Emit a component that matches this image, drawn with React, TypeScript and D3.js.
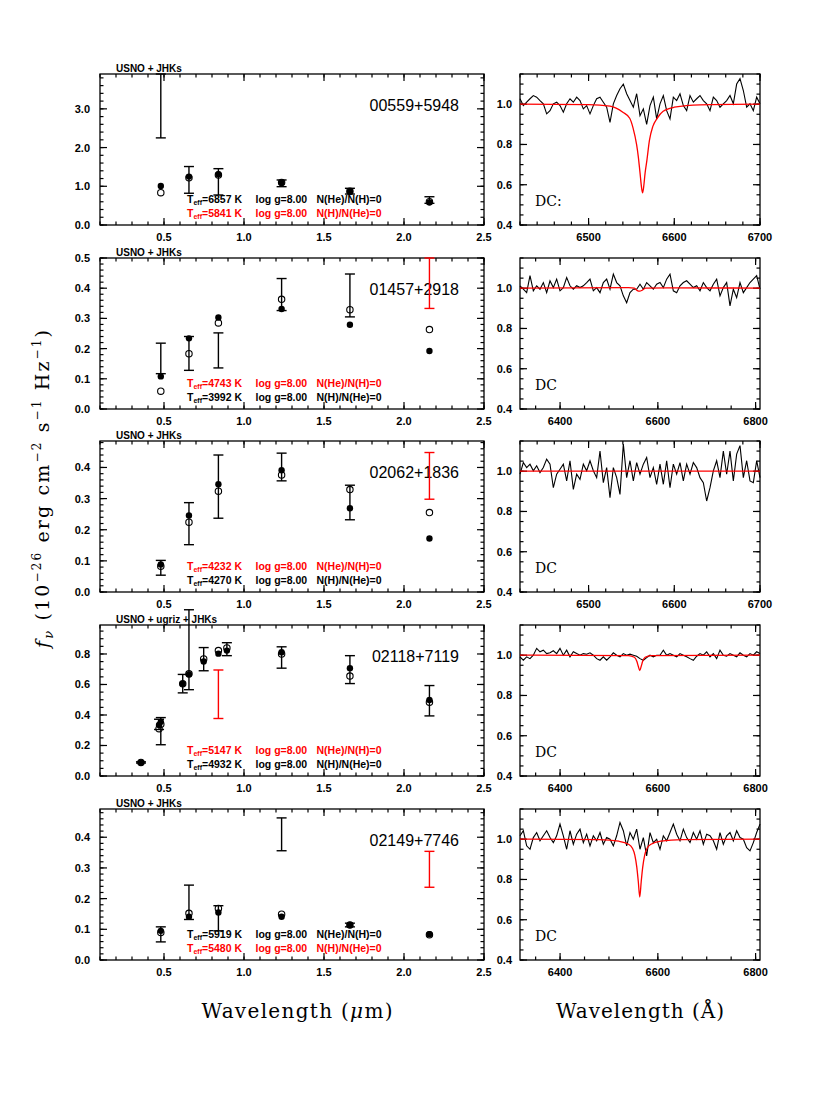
import React from 'react';
import * as d3 from 'd3';

// ---- layout ----
const W = 830;
const H = 1106;
const panelTops = [74, 258, 441, 625, 809];
const panelH = 151;
const sedLeft = 100, sedRight = 484;
const specLeft = 520, specRight = 760;

// ---- panel texts ----
const names = ['00559+5948', '01457+2918', '02062+1836', '02118+7119', '02149+7746'];
const photLabels = ['USNO + JHKs', 'USNO + JHKs', 'USNO + JHKs', 'USNO + ugriz + JHKs', 'USNO + JHKs'];
const specTypes = ['DC:', 'DC', 'DC', 'DC', 'DC'];
const line1Teff = [6857, 4743, 4232, 5147, 5919];
const line2Teff = [5841, 3992, 4270, 4932, 5480];
const line1Color = ['#000', 'red', 'red', 'red', '#000'];
const line2Color = ['red', '#000', '#000', '#000', 'red'];

// ---- SED axes ----
const sedYMax = [3.9, 0.5, 0.485, 0.99, 0.492];
const sedYMajor = [1.0, 0.1, 0.1, 0.2, 0.1];
const sedYMinor = [0.2, 0.02, 0.02, 0.05, 0.02];

// ---- SED data (microns, 1e-26 erg/cm2/s/Hz) ----
const p1Wave = [0.48, 0.656, 0.84, 1.235, 1.662, 2.159];
const p1Lo = [2.25, 0.82, 0.775, 0.99, 0.8, 0.56];
const p1Hi = [3.9, 1.51, 1.455, 1.163, 0.948, 0.73];
const p1Filled = [1.01, 1.25, 1.31, 1.09, 0.86, 0.585];
const p1Open = [0.835, 1.22, 1.29, 1.1, 0.87, 0.6];
const p1Red = [0, 0, 0, 0, 0, 0];

const p2Wave = [0.48, 0.656, 0.84, 1.235, 1.662, 2.159];
const p2Lo = [0.117, 0.128, 0.136, 0.326, 0.305, 0.333];
const p2Hi = [0.218, 0.24, 0.252, 0.432, 0.447, 0.5];
const p2Filled = [0.108, 0.234, 0.303, 0.331, 0.279, 0.192];
const p2Open = [0.059, 0.183, 0.285, 0.363, 0.329, 0.263];
const p2Red = [0, 0, 0, 0, 0, 1];

const p3Wave = [0.48, 0.656, 0.84, 1.235, 1.662, 2.159];
const p3Lo = [0.054, 0.152, 0.237, 0.357, 0.232, 0.298];
const p3Hi = [0.1015, 0.287, 0.44, 0.446, 0.343, 0.448];
const p3Filled = [0.0886, 0.246, 0.346, 0.391, 0.269, 0.172];
const p3Open = [0.083, 0.224, 0.324, 0.376, 0.329, 0.255];
const p3Red = [0, 0, 0, 0, 0, 1];

const p4Wave = [0.356, 0.469, 0.48, 0.617, 0.656, 0.748, 0.84, 0.893, 1.235, 1.662, 2.159];
const p4Lo = [0.085, 0.305, 0.205, 0.545, 0.566, 0.69, 0.377, 0.789, 0.707, 0.606, 0.394];
const p4Hi = [0.093, 0.372, 0.383, 0.666, 1.09, 0.842, 0.695, 0.874, 0.847, 0.789, 0.593];
const p4Filled = [0.089, 0.335, 0.355, 0.604, 0.666, 0.751, 0.802, 0.822, 0.811, 0.707, 0.499];
const p4Open = [0.089, 0.31, 0.34, 0.604, 0.67, 0.767, 0.822, 0.84, 0.8, 0.655, 0.484];
const p4Red = [0, 0, 0, 0, 0, 0, 1, 0, 0, 0, 0];

const p5Wave = [0.48, 0.656, 0.84, 1.235, 1.662, 2.159];
const p5Lo = [0.059, 0.132, 0.095, 0.356, 0.108, 0.237];
const p5Hi = [0.108, 0.244, 0.177, 0.463, 0.12, 0.354];
const p5Filled = [0.095, 0.141, 0.155, 0.141, 0.114, 0.084];
const p5Open = [0.09, 0.152, 0.168, 0.149, 0.114, 0.082];
const p5Red = [0, 0, 0, 0, 0, 1];

const sedSets = [
  [p1Wave, p1Lo, p1Hi, p1Filled, p1Open, p1Red],
  [p2Wave, p2Lo, p2Hi, p2Filled, p2Open, p2Red],
  [p3Wave, p3Lo, p3Hi, p3Filled, p3Open, p3Red],
  [p4Wave, p4Lo, p4Hi, p4Filled, p4Open, p4Red],
  [p5Wave, p5Lo, p5Hi, p5Filled, p5Open, p5Red],
];

// ---- spectra (Angstrom, normalised flux) ----
const specDomains = [[6420, 6700], [6318, 6809], [6420, 6700], [6318, 6809], [6318, 6809]];
const specXMajor = [100, 200, 100, 200, 200];
const specXMinor = [20, 50, 20, 50, 50];

const spec1Flux = [1.027, 0.993, 1.01, 1.027, 1.043, 1.035, 1.018, 1.002, 0.952, 0.968, 1.002, 1.01, 0.993, 0.96, 1.002, 1.027, 1.01, 1.035, 1.018, 0.977, 0.993, 0.952, 0.993, 1.027, 1.035, 1.01, 0.985, 0.91, 1.002, 1.043, 1.077, 1.1, 1.052, 1.018, 0.985, 1.052, 0.943, 0.977, 0.9, 0.993, 1.035, 0.927, 1.002, 1.043, 0.968, 0.927, 1.035, 1.018, 1.052, 0.993, 0.968, 1.043, 1.01, 1.027, 1.043, 1.018, 1.002, 0.968, 1.035, 1.018, 0.985, 1.002, 1.018, 1.043, 1.002, 1.1, 1.127, 1.068, 0.985, 1.002, 0.968, 1.035, 1.002];
const spec2Flux = [1.012, 0.995, 0.978, 1.062, 0.987, 1.012, 0.995, 1.028, 0.978, 1.037, 1.003, 1.045, 0.987, 1.003, 1.053, 1.012, 0.995, 1.012, 1.003, 1.012, 1.028, 1.045, 0.987, 1.003, 0.978, 1.028, 1.045, 0.995, 1.07, 1.028, 1.012, 0.962, 0.928, 0.978, 0.995, 0.995, 1.02, 0.995, 1.028, 1.012, 0.995, 1.02, 1.028, 1.003, 1.045, 1.07, 0.987, 0.978, 1.012, 1.028, 1.037, 1.02, 1.003, 1.012, 0.987, 1.028, 1.003, 0.987, 1.02, 1.045, 0.962, 1.003, 1.028, 0.912, 0.995, 0.953, 1.028, 0.978, 1.003, 1.028, 1.045, 1.062, 0.995];
const spec3Flux = [0.985, 1.043, 1.018, 1.035, 1.002, 1.027, 0.993, 1.018, 1.06, 1.035, 0.918, 0.985, 1.01, 1.035, 0.952, 1.052, 0.91, 0.985, 0.96, 1.035, 1.002, 1.052, 1.002, 0.968, 1.1, 0.943, 1.018, 0.868, 1.018, 0.968, 0.885, 1.135, 0.968, 1.052, 0.952, 1.043, 0.985, 1.035, 1.068, 0.968, 1.018, 0.935, 1.035, 0.935, 1.052, 0.918, 1.035, 0.985, 1.043, 0.952, 1.035, 0.985, 1.043, 1.018, 0.968, 0.943, 0.852, 0.918, 1.002, 1.052, 0.968, 1.1, 0.985, 1.1, 0.952, 1.085, 1.127, 0.968, 1.052, 0.952, 0.943, 1.052, 0.968];
const spec4Flux = [0.992, 0.975, 0.992, 0.983, 1.0, 1.034, 1.017, 1.025, 1.008, 1.012, 1.022, 1.008, 1.034, 1.0, 1.025, 0.992, 1.017, 1.008, 1.0, 1.008, 1.005, 1.012, 1.0, 0.983, 0.975, 0.992, 0.975, 0.992, 1.012, 1.0, 0.992, 1.008, 1.0, 1.005, 1.0, 0.995, 0.983, 0.975, 0.988, 1.0, 0.992, 1.0, 1.0, 1.025, 1.0, 1.008, 1.0, 0.992, 1.008, 1.0, 0.992, 0.983, 0.975, 0.995, 1.008, 1.0, 1.017, 0.992, 1.008, 0.983, 1.025, 1.0, 0.995, 1.008, 1.0, 0.992, 1.012, 1.0, 0.992, 1.008, 1.0, 1.017, 1.008];
const spec5Flux = [1.017, 1.042, 0.967, 0.95, 1.008, 1.033, 0.992, 1.017, 1.042, 1.008, 0.983, 1.017, 1.075, 1.017, 0.95, 1.042, 0.975, 1.025, 1.05, 0.983, 1.025, 0.967, 1.017, 0.992, 1.033, 0.975, 1.008, 1.0, 0.967, 1.017, 1.083, 1.042, 0.967, 1.033, 1.0, 1.05, 0.95, 1.008, 0.917, 1.033, 0.983, 1.0, 0.95, 1.017, 0.992, 1.033, 1.075, 1.025, 0.992, 1.05, 1.008, 0.983, 1.033, 1.0, 1.042, 0.975, 1.025, 1.017, 0.992, 0.95, 1.033, 0.975, 1.017, 1.033, 0.992, 1.042, 1.008, 1.0, 0.958, 0.942, 0.983, 1.033, 1.075];
const specFlux = [spec1Flux, spec2Flux, spec3Flux, spec4Flux, spec5Flux];

// model H-alpha profiles (red)
const model1Wave = [6420, 6500, 6525, 6540, 6548, 6552, 6556, 6558, 6560, 6562, 6563, 6564, 6566, 6568, 6571, 6575, 6580, 6587, 6600, 6630, 6700];
const model1Flux = [1.0, 0.998, 0.99, 0.96, 0.93, 0.88, 0.8, 0.74, 0.66, 0.58, 0.56, 0.58, 0.66, 0.72, 0.82, 0.89, 0.93, 0.965, 0.985, 0.997, 1.0];
const model2Wave = [6318, 6540, 6552, 6558, 6563, 6568, 6575, 6620, 6809];
const model2Flux = [1.0, 1.003, 1.0, 0.988, 0.985, 0.99, 1.0, 1.002, 1.0];
const model3Wave = [6420, 6700];
const model3Flux = [1.0, 1.0];
const model4Wave = [6318, 6540, 6552, 6557, 6560, 6563, 6566, 6569, 6574, 6586, 6809];
const model4Flux = [1.0, 0.998, 0.99, 0.97, 0.945, 0.924, 0.945, 0.97, 0.99, 0.998, 1.0];
const model5Wave = [6318, 6480, 6520, 6540, 6548, 6553, 6557, 6560, 6563, 6566, 6569, 6573, 6578, 6586, 6606, 6650, 6809];
const model5Flux = [1.0, 0.998, 0.99, 0.975, 0.955, 0.92, 0.86, 0.79, 0.713, 0.79, 0.86, 0.92, 0.955, 0.975, 0.99, 0.998, 1.0];
const modelSets = [
  [model1Wave, model1Flux], [model2Wave, model2Flux], [model3Wave, model3Flux],
  [model4Wave, model4Flux], [model5Wave, model5Flux],
];

const sans = '"Liberation Sans", Arial, Helvetica, sans-serif';
const serif = '"DejaVu Serif", "Liberation Serif", serif';
const fmt1 = d3.format('.1f');
const fmt0 = d3.format('d');

function tickVals(d0, d1, step) {
  const out = [];
  const i0 = Math.ceil(Math.min(d0, d1) / step - 1e-6);
  const i1 = Math.floor(Math.max(d0, d1) / step + 1e-6);
  for (let i = i0; i <= i1; i++) out.push(+(i * step).toFixed(6));
  return out;
}

function Frame({ x, y, xMaj, xMin, yMaj, yMin, xFmt, yFmt, yGap }) {
  const [x0, x1] = x.range();
  const [yb, yt] = y.range();
  const major = 7, minor = 3.5;
  const lines = [];
  tickVals(...x.domain(), xMin).forEach((v, i) => {
    const px = x(v);
    lines.push(<line key={'xm' + i} x1={px} x2={px} y1={yb} y2={yb - minor} />);
    lines.push(<line key={'xmt' + i} x1={px} x2={px} y1={yt} y2={yt + minor} />);
  });
  tickVals(...x.domain(), xMaj).forEach((v, i) => {
    const px = x(v);
    lines.push(<line key={'xM' + i} x1={px} x2={px} y1={yb} y2={yb - major} />);
    lines.push(<line key={'xMt' + i} x1={px} x2={px} y1={yt} y2={yt + major} />);
  });
  tickVals(...y.domain(), yMin).forEach((v, i) => {
    const py = y(v);
    lines.push(<line key={'ym' + i} x1={x0} x2={x0 + minor} y1={py} y2={py} />);
    lines.push(<line key={'ymr' + i} x1={x1} x2={x1 - minor} y1={py} y2={py} />);
  });
  tickVals(...y.domain(), yMaj).forEach((v, i) => {
    const py = y(v);
    lines.push(<line key={'yM' + i} x1={x0} x2={x0 + major} y1={py} y2={py} />);
    lines.push(<line key={'yMr' + i} x1={x1} x2={x1 - major} y1={py} y2={py} />);
  });
  return (
    <g>
      <g stroke="#000" strokeWidth={1.2}>{lines}</g>
      <rect x={x0} y={yt} width={x1 - x0} height={yb - yt} fill="none" stroke="#000" strokeWidth={1.3} />
      <g fontFamily={sans} fontSize={11} fontWeight="bold" fill="#000">
        {tickVals(...x.domain(), xMaj).map((v, i) => (
          <text key={'xl' + i} x={x(v)} y={yb + 16} textAnchor="middle">{xFmt(v)}</text>
        ))}
        {tickVals(...y.domain(), yMaj).map((v, i) => (
          <text key={'yl' + i} x={x0 - yGap} y={y(v) + 4} textAnchor="end">{yFmt(v)}</text>
        ))}
      </g>
    </g>
  );
}

function FitText({ x, y, teff, comp, color }) {
  return (
    <g fill={color} fontFamily={sans} fontWeight="bold" fontSize={10.5}>
      <text x={x} y={y}>
        T<tspan fontSize={7} dy={2}>eff</tspan><tspan dy={-2}>={teff} K</tspan>
      </text>
      <text x={x + 68.5} y={y}>log g=8.00</text>
      <text x={x + 129.5} y={y}>{comp}</text>
    </g>
  );
}

function SedPanel({ idx }) {
  const top = panelTops[idx];
  const [wave, lo, hi, filled, open, red] = sedSets[idx];
  const x = d3.scaleLinear().domain([0.1, 2.5]).range([sedLeft, sedRight]);
  const y = d3.scaleLinear().domain([0, sedYMax[idx]]).range([top + panelH, top]);
  const cap = 5;
  return (
    <g>
      <Frame x={x} y={y} xMaj={0.5} xMin={0.1} yMaj={sedYMajor[idx]} yMin={sedYMinor[idx]}
        xFmt={fmt1} yFmt={fmt1} yGap={10} />
      <text x={sedLeft + 16} y={top - 2.5} fontFamily={sans} fontWeight="bold" fontSize={10}>{photLabels[idx]}</text>
      <text x={459} y={top + 36.5} fontFamily={sans} fontSize={16} textAnchor="end">{names[idx]}</text>
      {wave.map((w, i) => {
        const c = red[i] ? 'red' : '#000';
        const px = x(w);
        return (
          <g key={'e' + i} stroke={c} strokeWidth={1.4}>
            <line x1={px} x2={px} y1={y(lo[i])} y2={y(hi[i])} />
            <line x1={px - cap} x2={px + cap} y1={y(lo[i])} y2={y(lo[i])} />
            <line x1={px - cap} x2={px + cap} y1={y(hi[i])} y2={y(hi[i])} />
          </g>
        );
      })}
      {wave.map((w, i) => (
        <circle key={'f' + i} cx={x(w)} cy={y(filled[i])} r={3.2} fill="#000" />
      ))}
      {wave.map((w, i) => (
        <circle key={'o' + i} cx={x(w)} cy={y(open[i])} r={3.2} fill="none" stroke="#000" strokeWidth={1.1} />
      ))}
      <FitText x={187} y={top + 129} teff={line1Teff[idx]} comp="N(He)/N(H)=0" color={line1Color[idx]} />
      <FitText x={187} y={top + 142.5} teff={line2Teff[idx]} comp="N(H)/N(He)=0" color={line2Color[idx]} />
    </g>
  );
}

function SpecPanel({ idx }) {
  const top = panelTops[idx];
  const [d0, d1] = specDomains[idx];
  const x = d3.scaleLinear().domain([d0, d1]).range([specLeft, specRight]);
  const y = d3.scaleLinear().domain([0.4, 1.15]).range([top + panelH, top]);
  const flux = specFlux[idx];
  const n = flux.length;
  const obs = flux.map((f, i) => [d0 + (i * (d1 - d0)) / (n - 1), f]);
  const [mw, mf] = modelSets[idx];
  const model = mw.map((w, i) => [w, mf[i]]);
  const obsLine = d3.line().x(d => x(d[0])).y(d => y(d[1]));
  const modelLine = d3.line().x(d => x(d[0])).y(d => y(d[1])).curve(d3.curveMonotoneX);
  return (
    <g>
      <Frame x={x} y={y} xMaj={specXMajor[idx]} xMin={specXMinor[idx]} yMaj={0.2} yMin={0.05}
        xFmt={fmt0} yFmt={fmt1} yGap={8} />
      <path d={obsLine(obs)} fill="none" stroke="#000" strokeWidth={1.1} />
      <path d={modelLine(model)} fill="none" stroke="red" strokeWidth={1.3} />
      <text x={535} y={top + 132} fontFamily={serif} fontSize={14}>{specTypes[idx]}</text>
    </g>
  );
}

export default function App() {
  return (
    <svg width={W} height={H} style={{ position: 'absolute', left: 0, top: 0, background: '#fff' }}>
      <rect width={W} height={H} fill="#fff" />
      {panelTops.map((t, i) => <SedPanel key={'s' + i} idx={i} />)}
      {panelTops.map((t, i) => <SpecPanel key={'p' + i} idx={i} />)}
      <text transform="translate(49,489) rotate(-90)" textAnchor="middle" fontFamily={serif} fontSize={19}
        textLength={318} lengthAdjust="spacing">
        <tspan fontStyle="italic">f</tspan>
        <tspan fontStyle="italic" fontSize={13} dy={4}>ν</tspan>
        <tspan dy={-4}> (10</tspan>
        <tspan fontSize={12} dy={-8}>−26</tspan>
        <tspan dy={8}> erg cm</tspan>
        <tspan fontSize={12} dy={-8}>−2</tspan>
        <tspan dy={8}> s</tspan>
        <tspan fontSize={12} dy={-8}>−1</tspan>
        <tspan dy={8}> Hz</tspan>
        <tspan fontSize={12} dy={-8}>−1</tspan>
        <tspan dy={8}>)</tspan>
      </text>
      <text x={297} y={1018} textAnchor="middle" fontFamily={serif} fontSize={20}
        textLength={191} lengthAdjust="spacing">Wavelength (<tspan fontStyle="italic">μ</tspan>m)</text>
      <text x={640} y={1018} textAnchor="middle" fontFamily={serif} fontSize={20}
        textLength={168} lengthAdjust="spacing">Wavelength (Å)</text>
    </svg>
  );
}
